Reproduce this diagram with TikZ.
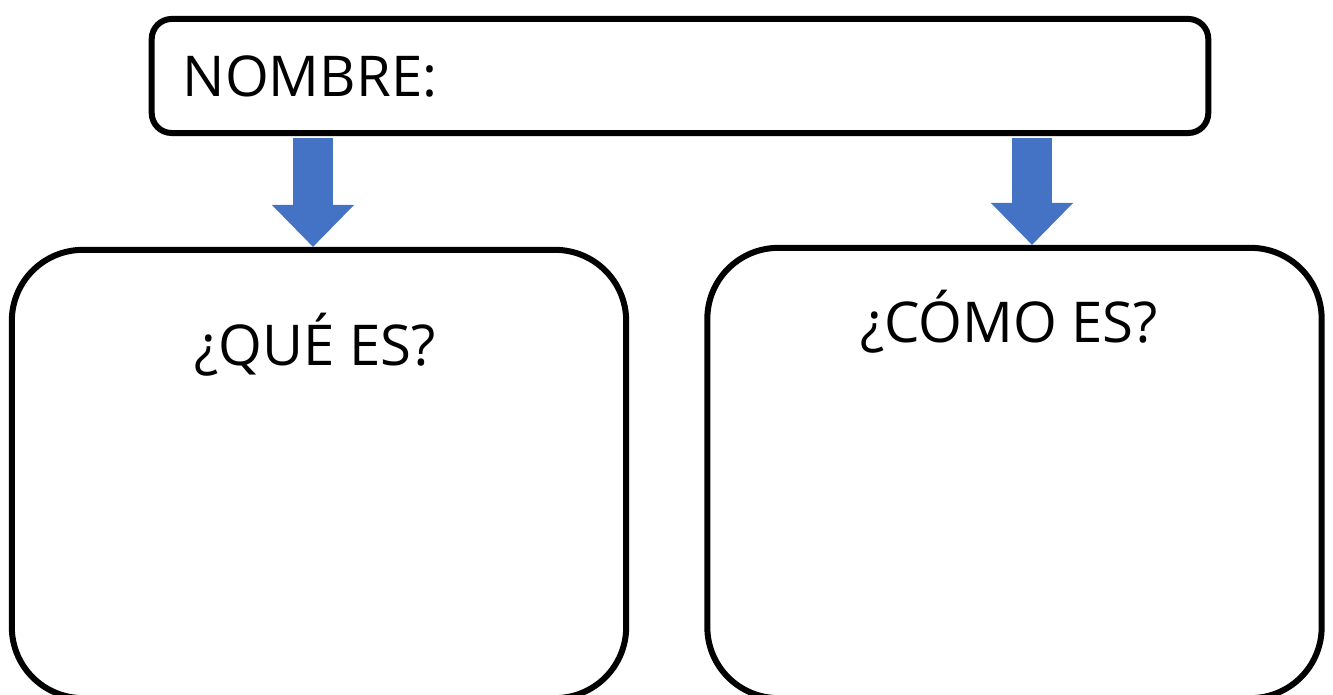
\documentclass[tikz,border=0pt]{standalone}
\usepackage{fontspec}
\setmainfont{Open Sans}
\usetikzlibrary{arrows.meta, positioning}
\definecolor{arrowblue}{RGB}{68,114,196}
\tikzstyle{panel} = [draw, line width=0.06cm, rounded corners=0.71cm, minimum width=6.14cm, minimum height=4.48cm]
\tikzstyle{namebox} = [panel, rounded corners=0.2cm, minimum width=10.56cm, minimum height=1.14cm]
\tikzstyle{title} = [font=\fontsize{16}{19}\selectfont, inner sep=0pt]
\tikzstyle{bigarrow} = [draw=arrowblue, line width=0.40cm, -{Triangle[width=0.82cm, length=0.42cm, line width=0.5pt]}, shorten <=0.02cm]
\newcommand{\blockarrow}[3]{
  \draw [bigarrow] (#1.south -| #3) -- (#2.north -| #3);}

\begin{document}
\begin{tikzpicture}[x=0.01cm, y=-0.01cm]

		\clip (0,0) rectangle (1333,695);

		% Draw diagram elements
		\node (nombre) [namebox] at (680,76) {};
		\node (que) [panel] at (319,474) {};
		\node (como) [panel, minimum height=4.5cm] at (1014.5,473) {};
		\node (nombreT) [title, anchor=west] at (182,77) {NOMBRE:};
		\node (queT) [title] at (315,345) {¿QUÉ ES?};
		\node (comoT) [title] at (1009,322) {¿CÓMO ES?};

		% Draw arrows between elements
		\coordinate (qx) at (313,0);
		\coordinate (cx) at (1032,0);
		\blockarrow{nombre}{que}{qx};
		\blockarrow{nombre}{como}{cx};

	\end{tikzpicture}
\end{document}
